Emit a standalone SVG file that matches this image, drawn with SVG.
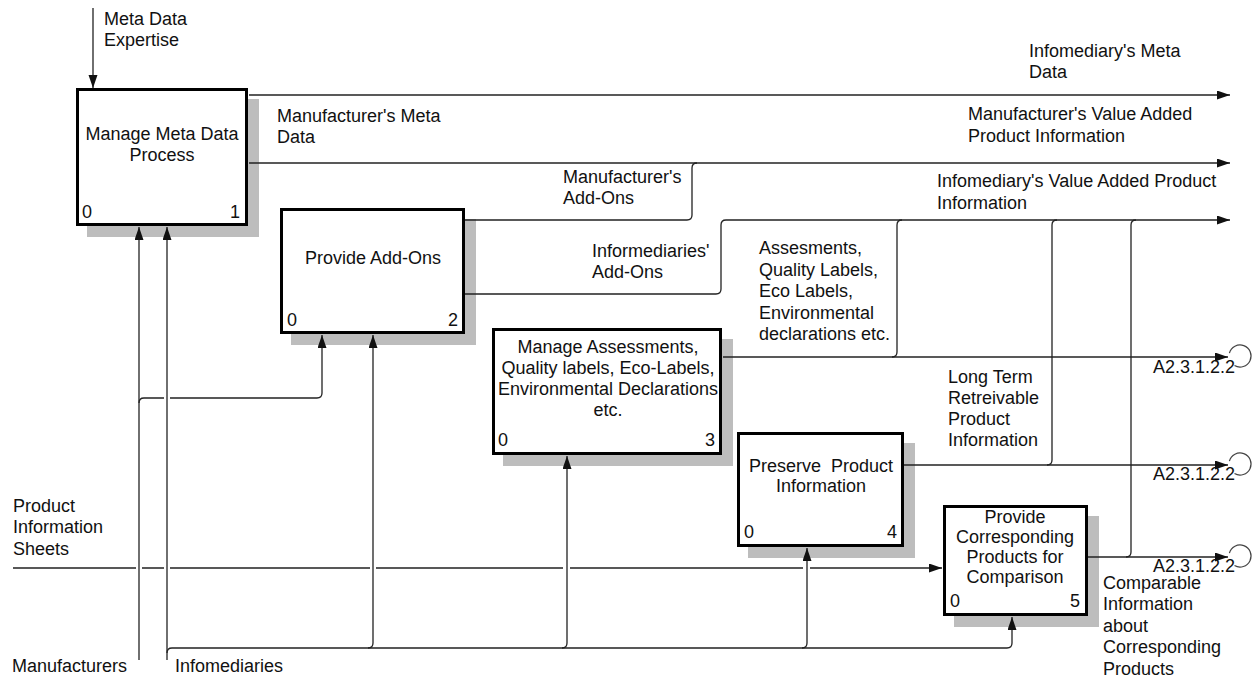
<svg xmlns="http://www.w3.org/2000/svg" width="1257" height="682" viewBox="0 0 1257 682">
  <defs>
    <marker id="arr" markerUnits="userSpaceOnUse" markerWidth="14" markerHeight="10" refX="13" refY="4.5" orient="auto">
      <path d="M0,0 L13,4.5 L0,9 z" fill="#111"/>
    </marker>
    <style>
      text { font-family: "Liberation Sans", Arial, sans-serif; font-size: 18px; fill: #111; }
      .c { text-anchor: middle; }
      .e { text-anchor: end; }
      .box { fill: #fff; stroke: #000; stroke-width: 3; }
      .shadow { fill: #bdbdbd; }
      .ln { fill: none; stroke: #222; stroke-width: 1.3; }
      .tun { fill: none; stroke: #444; stroke-width: 1.2; }
    </style>
  </defs>
  <rect width="1257" height="682" fill="#fff"/>

  <!-- activity boxes -->
  <g id="a1">
    <rect class="shadow" x="87" y="99" width="172" height="138"/>
    <rect class="box" x="77.5" y="89.5" width="169" height="135"/>
    <text class="c" x="162" y="140">Manage Meta Data</text>
    <text class="c" x="162" y="161">Process</text>
    <text x="82" y="218">0</text>
    <text class="e" x="240" y="218">1</text>
  </g>
  <g id="a2">
    <rect class="shadow" x="291" y="219" width="185" height="126"/>
    <rect class="box" x="281.5" y="209.5" width="182" height="123"/>
    <text class="c" x="373" y="264">Provide Add-Ons</text>
    <text x="287" y="326">0</text>
    <text class="e" x="458" y="326">2</text>
  </g>
  <g id="a3">
    <rect class="shadow" x="503" y="339" width="230" height="127"/>
    <rect class="box" x="493.5" y="329.5" width="227" height="124"/>
    <text class="c" x="608" y="353">Manage Assessments,</text>
    <text class="c" x="608" y="374">Quality labels, Eco-Labels,</text>
    <text class="c" x="608" y="395">Environmental Declarations</text>
    <text class="c" x="608" y="415.5">etc.</text>
    <text x="498" y="446">0</text>
    <text class="e" x="715" y="446">3</text>
  </g>
  <g id="a4">
    <rect class="shadow" x="748" y="443" width="167" height="115"/>
    <rect class="box" x="738.5" y="433.5" width="164" height="112"/>
    <text class="c" x="821" y="472" xml:space="preserve">Preserve  Product</text>
    <text class="c" x="821" y="492">Information</text>
    <text x="744" y="538">0</text>
    <text class="e" x="897" y="538">4</text>
  </g>
  <g id="a5">
    <rect class="shadow" x="954" y="516" width="145" height="111"/>
    <rect class="box" x="944.5" y="506.5" width="142" height="108"/>
    <text class="c" x="1015" y="523">Provide</text>
    <text class="c" x="1015" y="543">Corresponding</text>
    <text class="c" x="1015" y="563">Products for</text>
    <text class="c" x="1015" y="583">Comparison</text>
    <text x="950" y="607">0</text>
    <text class="e" x="1080" y="607">5</text>
  </g>

  <!-- connectors (drawn over the box shadows) -->
  <g id="connectors">
    <!-- control -->
    <path class="ln" d="M93,8 V88" marker-end="url(#arr)"/>
    <!-- outputs of activity 1 -->
    <path class="ln" d="M249,95 H1230" marker-end="url(#arr)"/>
    <path class="ln" d="M249,163 H1230" marker-end="url(#arr)"/>
    <!-- outputs of activity 2 -->
    <path class="ln" d="M465,220 H687 Q692,220 692,215 V168 Q692,163 697,163"/>
    <path class="ln" d="M465,294 H716 Q721,294 721,289 V225 Q721,220 726,220 H1230" marker-end="url(#arr)"/>
    <!-- output of activity 3 -->
    <path class="ln" d="M723,357 H1228" marker-end="url(#arr)"/>
    <path class="ln" d="M892,357 Q897,357 897,352 V225 Q897,220 902,220"/>
    <!-- output of activity 4 -->
    <path class="ln" d="M904,465 H1228" marker-end="url(#arr)"/>
    <path class="ln" d="M1047,465 Q1052,465 1052,460 V225 Q1052,220 1057,220"/>
    <!-- output of activity 5 -->
    <path class="ln" d="M1088,557 H1228" marker-end="url(#arr)"/>
    <path class="ln" d="M1126,557 Q1131,557 1131,552 V225 Q1131,220 1136,220"/>
    <!-- tunnel ends -->
    <path class="tun" d="M1229.4,353.2 A11,11 0 1 1 1234.5,365.5"/>
    <path class="tun" d="M1229.4,461.2 A11,11 0 1 1 1234.5,473.5"/>
    <path class="tun" d="M1229.4,553.2 A11,11 0 1 1 1234.5,565.5"/>
    <!-- input: product information sheets -->
    <path class="ln" d="M13,568 H136 M142,568 H164 M170,568 H370 M376,568 H563 M570,568 H803"/>
    <path class="ln" d="M810,568 H942" marker-end="url(#arr)"/>
    <!-- mechanism: manufacturers -->
    <path class="ln" d="M139,660 V227" marker-end="url(#arr)"/>
    <path class="ln" d="M139,403 Q139,398 144,398 H164"/>
    <path class="ln" d="M170,398 H317 Q322,398 322,393 V335" marker-end="url(#arr)"/>
    <!-- mechanism: infomediaries -->
    <path class="ln" d="M167,660 V227" marker-end="url(#arr)"/>
    <path class="ln" d="M167,653 Q167,648 172,648 H1007 Q1012,648 1012,643 V617" marker-end="url(#arr)"/>
    <path class="ln" d="M368,648 Q373,648 373,643 V335" marker-end="url(#arr)"/>
    <path class="ln" d="M562,648 Q567,648 567,643 V456" marker-end="url(#arr)"/>
    <path class="ln" d="M802,648 Q807,648 807,643 V548" marker-end="url(#arr)"/>
  </g>

  <!-- arrow labels -->
  <g id="labels">
    <text x="104" y="25">Meta Data</text>
    <text x="104" y="46">Expertise</text>
    <text x="277" y="122">Manufacturer's Meta</text>
    <text x="277" y="143">Data</text>
    <text x="1029" y="57">Infomediary's Meta</text>
    <text x="1029" y="78">Data</text>
    <text x="968" y="120">Manufacturer's Value Added</text>
    <text x="968" y="142">Product Information</text>
    <text x="563" y="183">Manufacturer's</text>
    <text x="563" y="204">Add-Ons</text>
    <text x="937" y="187">Infomediary's Value Added Product</text>
    <text x="937" y="209">Information</text>
    <text x="592" y="257">Informediaries'</text>
    <text x="592" y="278">Add-Ons</text>
    <text x="759" y="254">Assesments,</text>
    <text x="759" y="275.5">Quality Labels,</text>
    <text x="759" y="297">Eco Labels,</text>
    <text x="759" y="318.5">Environmental</text>
    <text x="759" y="340">declarations etc.</text>
    <text x="948" y="383">Long Term</text>
    <text x="948" y="404">Retreivable</text>
    <text x="948" y="425">Product</text>
    <text x="948" y="446">Information</text>
    <text x="1153" y="373">A2.3.1.2.2</text>
    <text x="1153" y="480">A2.3.1.2.2</text>
    <text x="1153" y="572">A2.3.1.2.2</text>
    <text x="13" y="512">Product</text>
    <text x="13" y="533">Information</text>
    <text x="13" y="555">Sheets</text>
    <text x="12" y="672">Manufacturers</text>
    <text x="175" y="672">Infomediaries</text>
    <text x="1103" y="589">Comparable</text>
    <text x="1103" y="610">Information</text>
    <text x="1103" y="632">about</text>
    <text x="1103" y="653">Corresponding</text>
    <text x="1103" y="675">Products</text>
  </g>
</svg>
